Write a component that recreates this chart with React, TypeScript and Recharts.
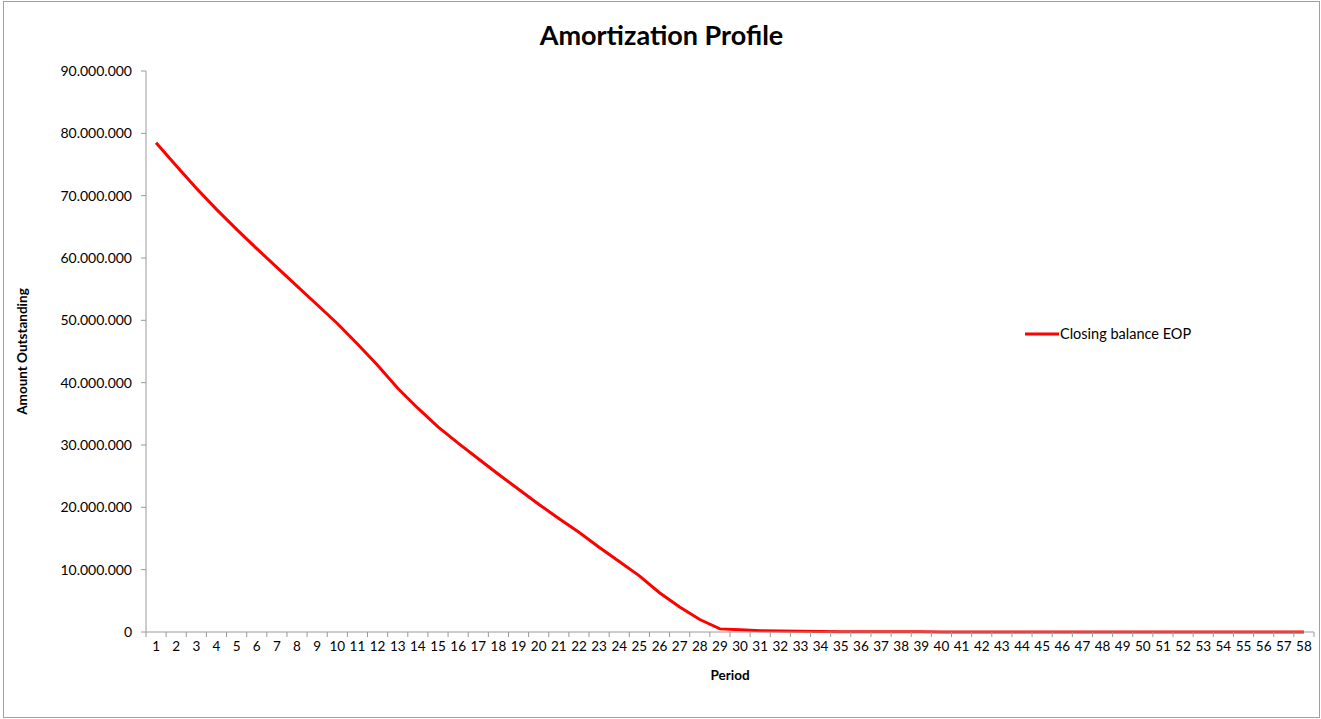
import React from "react";
import { Line, LineChart, XAxis, YAxis, Label } from "recharts";

const periods = [
  1, 2, 3, 4, 5, 6, 7, 8, 9, 10, 11, 12, 13, 14, 15, 16, 17, 18, 19, 20,
  21, 22, 23, 24, 25, 26, 27, 28, 29, 30, 31, 32, 33, 34, 35, 36, 37, 38, 39, 40,
  41, 42, 43, 44, 45, 46, 47, 48, 49, 50, 51, 52, 53, 54, 55, 56, 57, 58,
];

// closing balance end of period
const closingBalance = [
  78500000, 74800000, 71200000, 67800000, 64600000, 61500000, 58500000, 55500000, 52500000, 49500000,
  46200000, 42800000, 39100000, 35900000, 32900000, 30300000, 27800000, 25300000, 22900000, 20500000,
  18200000, 16000000, 13600000, 11300000, 9000000, 6300000, 4000000, 2000000, 500000, 350000,
  220000, 150000, 110000, 80000, 60000, 45000, 35000, 28000, 22000, 17000,
  13000, 10000, 8000, 6000, 5000, 4000, 3000, 2500, 2000, 1500,
  1200, 1000, 800, 600, 400, 300, 200, 100,
];

const yTicks = [0, 10000000, 20000000, 30000000, 40000000, 50000000, 60000000, 70000000, 80000000, 90000000];

const data = periods.map((p, i) => ({ period: p, balance: closingBalance[i] }));

const RED = "#FF0000";
const AXIS = "#9A9A9A";
const FONT = "Lato, 'Open Sans', sans-serif";

const dotted = (v: number) => String(Math.round(v)).replace(/\B(?=(\d{3})+(?!\d))/g, ".");

// Excel style: tick marks sit between categories, labels in the middle
function PeriodTick(props: any) {
  const { x, y, payload } = props;
  const half = 1168 / 58 / 2;
  return (
    <g>
      <line x1={x - half} x2={x - half} y1={y - 8} y2={y - 3} stroke={AXIS} />
      {payload.value === 58 && (
        <line x1={x + half} x2={x + half} y1={y - 8} y2={y - 3} stroke={AXIS} />
      )}
      <text x={x} y={y + 11} textAnchor="middle" fontSize={13.5} fill="#000" fontFamily={FONT}>
        {payload.value}
      </text>
    </g>
  );
}

export default function App() {
  return (
    <div
      style={{
        position: "absolute",
        left: 3,
        top: 1,
        width: 1315,
        height: 715,
        border: "1px solid #A0A0A0",
        background: "#fff",
        fontFamily: FONT,
      }}
    >
      <div
        style={{
          position: "absolute",
          left: 0,
          right: 0,
          top: 16,
          textAlign: "center",
          fontSize: 27,
          fontWeight: 700,
        }}
      >
        Amortization Profile
      </div>
      <div
        style={{
          position: "absolute",
          left: 1020,
          top: 323,
          display: "flex",
          alignItems: "center",
          fontSize: 14.5,
        }}
      >
        <svg width={36} height={6}>
          <line x1={1} x2={35} y1={3} y2={3} stroke={RED} strokeWidth={3} />
        </svg>
        <span>Closing balance EOP</span>
      </div>
      <LineChart width={1315} height={715} data={data} margin={{ top: 69, right: 5, bottom: 0, left: 0 }}>
        <XAxis
          dataKey="period"
          type="number"
          domain={[0.5, 58.5]}
          ticks={periods}
          interval={0}
          tickLine={false}
          axisLine={{ stroke: AXIS }}
          tick={<PeriodTick />}
          height={85}
        >
          <Label value="Period" position="insideTop" offset={38} fontSize={13.5} fontWeight={700} fill="#000" fontFamily={FONT} />
        </XAxis>
        <YAxis
          domain={[0, 90000000]}
          ticks={yTicks}
          interval={0}
          width={142}
          tickSize={5}
          tickMargin={9}
          tickLine={{ stroke: AXIS }}
          axisLine={{ stroke: AXIS }}
          tickFormatter={dotted}
          tick={{ fontSize: 14, fill: "#000", fontFamily: FONT }}
        >
          <Label
            value="Amount Outstanding"
            angle={-90}
            position="insideLeft"
            offset={18}
            fontSize={13.5}
            fontWeight={700}
            fill="#000"
            fontFamily={FONT}
            style={{ textAnchor: "middle" }}
          />
        </YAxis>
        <Line
          dataKey="balance"
          type="linear"
          stroke={RED}
          strokeWidth={3}
          dot={false}
          isAnimationActive={false}
        />
      </LineChart>
    </div>
  );
}
